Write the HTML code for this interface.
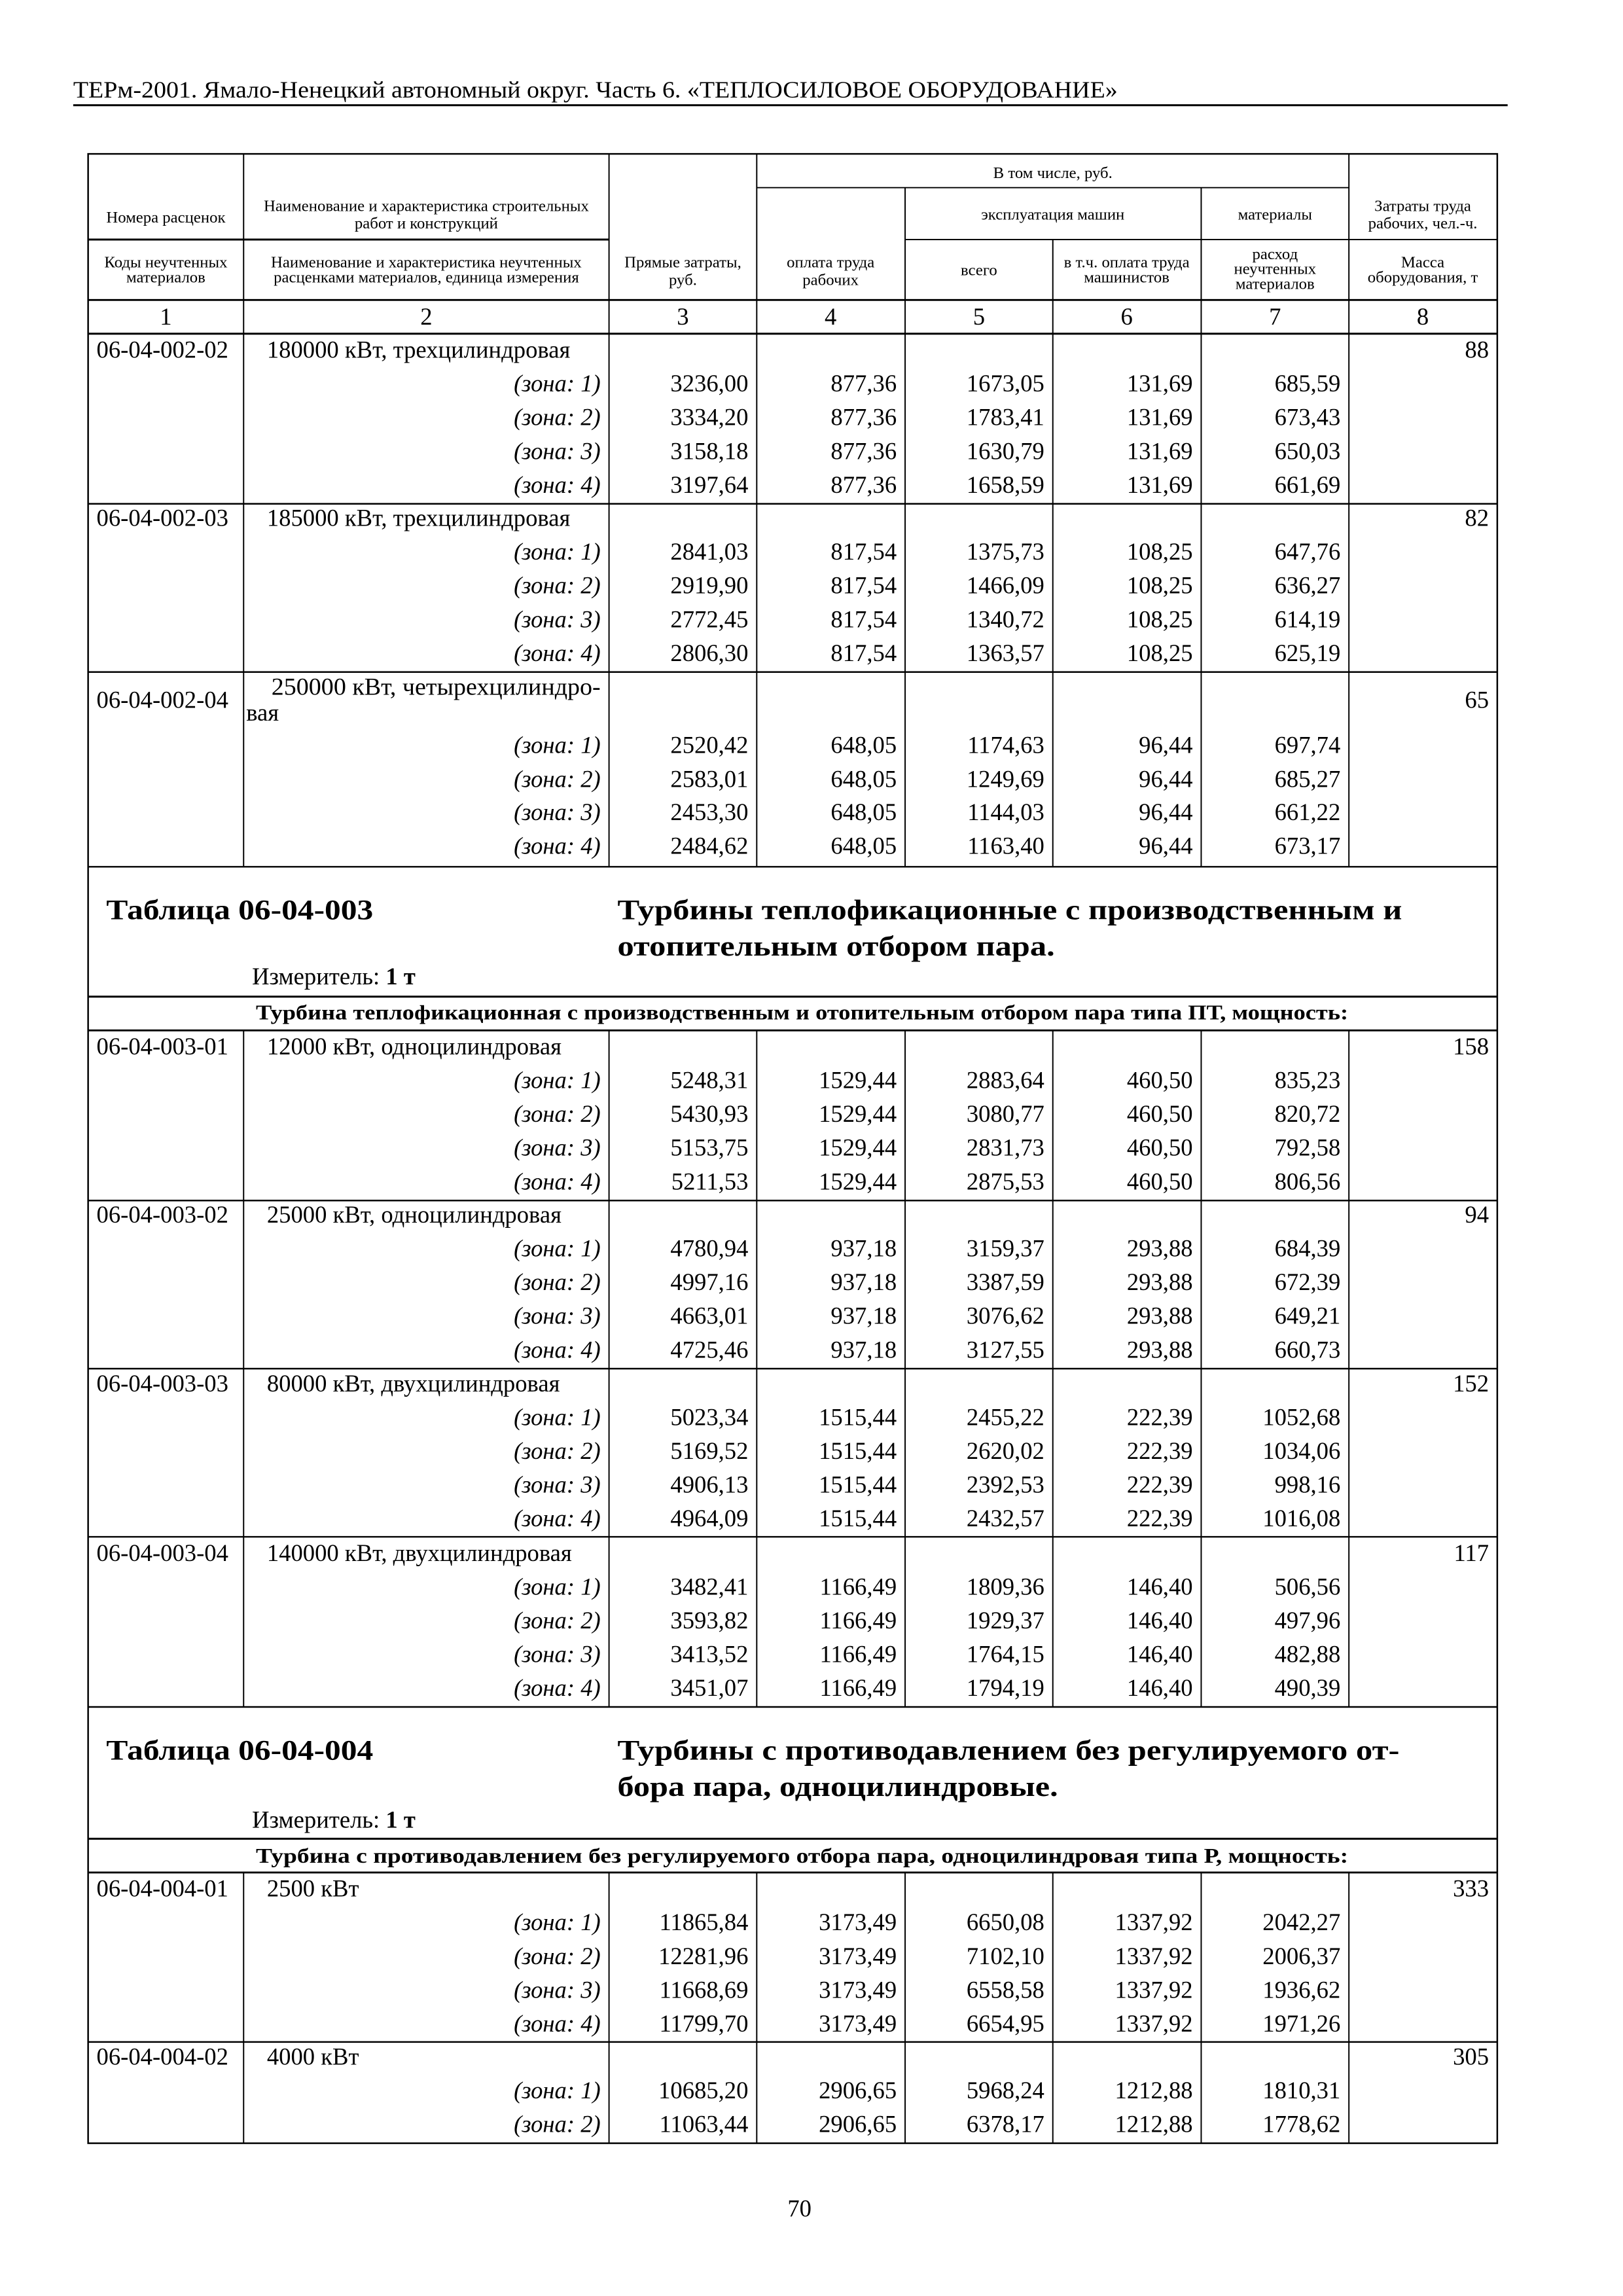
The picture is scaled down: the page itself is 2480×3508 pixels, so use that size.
<!DOCTYPE html>
<html><head><meta charset="utf-8"><style>
html,body{margin:0;padding:0;background:#fff}
svg{display:block}
text{font-family:"Liberation Serif","DejaVu Serif",serif;fill:#000}
.d{font-size:37px}
.r{text-anchor:end}
.z{font-size:37px;font-style:italic;text-anchor:end}
.h{font-size:25px;text-anchor:middle}
.c{text-anchor:middle}
.b{font-weight:bold}
</style></head><body>
<svg width="2480" height="3508" viewBox="0 0 2480 3508" xmlns="http://www.w3.org/2000/svg">
<rect width="2480" height="3508" fill="#fff"/>
<g transform="scale(0.99,0.992)">
<text x="113" y="150" style="font-size:36px" textLength="1612" lengthAdjust="spacingAndGlyphs">ТЕРм-2001. Ямало-Ненецкий автономный округ. Часть 6. «ТЕПЛОСИЛОВОЕ ОБОРУДОВАНИЕ»</text>
<line x1="113" y1="162" x2="2327" y2="162" stroke="#000" stroke-width="3"/>

<g stroke="#000" fill="none">
<rect x="136" y="237" width="2175" height="3064" stroke-width="2.5"/>
<line x1="1168" y1="289" x2="2082" y2="289" stroke-width="2"/>
<line x1="136" y1="369" x2="940" y2="369" stroke-width="3"/>
<line x1="1397" y1="369" x2="2311" y2="369" stroke-width="2"/>
<line x1="136" y1="462" x2="2311" y2="462" stroke-width="3"/>
<line x1="136" y1="514" x2="2311" y2="514" stroke-width="3"/>
<line x1="376" y1="237" x2="376" y2="1335" stroke-width="2"/>
<line x1="940" y1="237" x2="940" y2="1335" stroke-width="2"/>
<line x1="1168" y1="237" x2="1168" y2="1335" stroke-width="2"/>
<line x1="1397" y1="289" x2="1397" y2="1335" stroke-width="2"/>
<line x1="1625" y1="369" x2="1625" y2="1335" stroke-width="2"/>
<line x1="1854" y1="289" x2="1854" y2="1335" stroke-width="2"/>
<line x1="2082" y1="237" x2="2082" y2="1335" stroke-width="2"/>
<line x1="136" y1="776" x2="2311" y2="776" stroke-width="2.5"/>
<line x1="136" y1="1035" x2="2311" y2="1035" stroke-width="2.5"/>
<line x1="136" y1="1335" x2="2311" y2="1335" stroke-width="2.5"/>
<line x1="136" y1="1535" x2="2311" y2="1535" stroke-width="3"/>
<line x1="136" y1="1587" x2="2311" y2="1587" stroke-width="3"/>
<line x1="376" y1="1587" x2="376" y2="2629" stroke-width="2"/>
<line x1="940" y1="1587" x2="940" y2="2629" stroke-width="2"/>
<line x1="1168" y1="1587" x2="1168" y2="2629" stroke-width="2"/>
<line x1="1397" y1="1587" x2="1397" y2="2629" stroke-width="2"/>
<line x1="1625" y1="1587" x2="1625" y2="2629" stroke-width="2"/>
<line x1="1854" y1="1587" x2="1854" y2="2629" stroke-width="2"/>
<line x1="2082" y1="1587" x2="2082" y2="2629" stroke-width="2"/>
<line x1="136" y1="1849" x2="2311" y2="1849" stroke-width="2.5"/>
<line x1="136" y1="2108" x2="2311" y2="2108" stroke-width="2.5"/>
<line x1="136" y1="2367" x2="2311" y2="2367" stroke-width="2.5"/>
<line x1="136" y1="2629" x2="2311" y2="2629" stroke-width="2.5"/>
<line x1="136" y1="2832" x2="2311" y2="2832" stroke-width="3"/>
<line x1="136" y1="2884" x2="2311" y2="2884" stroke-width="3"/>
<line x1="376" y1="2884" x2="376" y2="3301" stroke-width="2"/>
<line x1="940" y1="2884" x2="940" y2="3301" stroke-width="2"/>
<line x1="1168" y1="2884" x2="1168" y2="3301" stroke-width="2"/>
<line x1="1397" y1="2884" x2="1397" y2="3301" stroke-width="2"/>
<line x1="1625" y1="2884" x2="1625" y2="3301" stroke-width="2"/>
<line x1="1854" y1="2884" x2="1854" y2="3301" stroke-width="2"/>
<line x1="2082" y1="2884" x2="2082" y2="3301" stroke-width="2"/>
<line x1="136" y1="3145" x2="2311" y2="3145" stroke-width="2.5"/>
</g>

<text class="h" x="1625" y="274">В том числе, руб.</text>
<text class="h" x="256" y="343">Номера расценок</text>
<text class="h" x="658" y="325">Наименование и характеристика строительных</text>
<text class="h" x="658" y="352">работ и конструкций</text>
<text class="h" x="1625" y="338">эксплуатация машин</text>
<text class="h" x="1968" y="338">материалы</text>
<text class="h" x="2196" y="325">Затраты труда</text>
<text class="h" x="2196" y="352">рабочих, чел.-ч.</text>
<text class="h" x="256" y="412">Коды неучтенных</text>
<text class="h" x="256" y="435">материалов</text>
<text class="h" x="658" y="412">Наименование и характеристика неучтенных</text>
<text class="h" x="658" y="435">расценками материалов, единица измерения</text>
<text class="h" x="1054" y="412">Прямые затраты,</text>
<text class="h" x="1054" y="439">руб.</text>
<text class="h" x="1282" y="412">оплата труда</text>
<text class="h" x="1282" y="439">рабочих</text>
<text class="h" x="1511" y="424">всего</text>
<text class="h" x="1739" y="412">в т.ч. оплата труда</text>
<text class="h" x="1739" y="435">машинистов</text>
<text class="h" x="1968" y="399">расход</text>
<text class="h" x="1968" y="422">неучтенных</text>
<text class="h" x="1968" y="445">материалов</text>
<text class="h" x="2196" y="412">Масса</text>
<text class="h" x="2196" y="435">оборудования, т</text>
<g class="d c">
<text x="256" y="500">1</text><text x="658" y="500">2</text><text x="1054" y="500">3</text><text x="1282" y="500">4</text><text x="1511" y="500">5</text><text x="1739" y="500">6</text><text x="1968" y="500">7</text><text x="2196" y="500">8</text>
</g>

<g class="d">
<text x="149" y="551">06-04-002-02</text><text x="412" y="551">180000 кВт, трехцилиндровая</text><text class="r" x="2298" y="551">88</text>
<text class="z" x="927" y="603">(зона: 1)</text><text class="r" x="1155" y="603">3236,00</text><text class="r" x="1384" y="603">877,36</text><text class="r" x="1612" y="603">1673,05</text><text class="r" x="1841" y="603">131,69</text><text class="r" x="2069" y="603">685,59</text>
<text class="z" x="927" y="655">(зона: 2)</text><text class="r" x="1155" y="655">3334,20</text><text class="r" x="1384" y="655">877,36</text><text class="r" x="1612" y="655">1783,41</text><text class="r" x="1841" y="655">131,69</text><text class="r" x="2069" y="655">673,43</text>
<text class="z" x="927" y="707">(зона: 3)</text><text class="r" x="1155" y="707">3158,18</text><text class="r" x="1384" y="707">877,36</text><text class="r" x="1612" y="707">1630,79</text><text class="r" x="1841" y="707">131,69</text><text class="r" x="2069" y="707">650,03</text>
<text class="z" x="927" y="759">(зона: 4)</text><text class="r" x="1155" y="759">3197,64</text><text class="r" x="1384" y="759">877,36</text><text class="r" x="1612" y="759">1658,59</text><text class="r" x="1841" y="759">131,69</text><text class="r" x="2069" y="759">661,69</text>
<text x="149" y="810">06-04-002-03</text><text x="412" y="810">185000 кВт, трехцилиндровая</text><text class="r" x="2298" y="810">82</text>
<text class="z" x="927" y="862">(зона: 1)</text><text class="r" x="1155" y="862">2841,03</text><text class="r" x="1384" y="862">817,54</text><text class="r" x="1612" y="862">1375,73</text><text class="r" x="1841" y="862">108,25</text><text class="r" x="2069" y="862">647,76</text>
<text class="z" x="927" y="914">(зона: 2)</text><text class="r" x="1155" y="914">2919,90</text><text class="r" x="1384" y="914">817,54</text><text class="r" x="1612" y="914">1466,09</text><text class="r" x="1841" y="914">108,25</text><text class="r" x="2069" y="914">636,27</text>
<text class="z" x="927" y="966">(зона: 3)</text><text class="r" x="1155" y="966">2772,45</text><text class="r" x="1384" y="966">817,54</text><text class="r" x="1612" y="966">1340,72</text><text class="r" x="1841" y="966">108,25</text><text class="r" x="2069" y="966">614,19</text>
<text class="z" x="927" y="1018">(зона: 4)</text><text class="r" x="1155" y="1018">2806,30</text><text class="r" x="1384" y="1018">817,54</text><text class="r" x="1612" y="1018">1363,57</text><text class="r" x="1841" y="1018">108,25</text><text class="r" x="2069" y="1018">625,19</text>
<text x="149" y="1090">06-04-002-04</text><text x="419" y="1070" textLength="508" lengthAdjust="spacingAndGlyphs">250000 кВт, четырехцилиндро-</text><text x="380" y="1110">вая</text><text class="r" x="2298" y="1090">65</text>
<text class="z" x="927" y="1160">(зона: 1)</text><text class="r" x="1155" y="1160">2520,42</text><text class="r" x="1384" y="1160">648,05</text><text class="r" x="1612" y="1160">1174,63</text><text class="r" x="1841" y="1160">96,44</text><text class="r" x="2069" y="1160">697,74</text>
<text class="z" x="927" y="1212">(зона: 2)</text><text class="r" x="1155" y="1212">2583,01</text><text class="r" x="1384" y="1212">648,05</text><text class="r" x="1612" y="1212">1249,69</text><text class="r" x="1841" y="1212">96,44</text><text class="r" x="2069" y="1212">685,27</text>
<text class="z" x="927" y="1263">(зона: 3)</text><text class="r" x="1155" y="1263">2453,30</text><text class="r" x="1384" y="1263">648,05</text><text class="r" x="1612" y="1263">1144,03</text><text class="r" x="1841" y="1263">96,44</text><text class="r" x="2069" y="1263">661,22</text>
<text class="z" x="927" y="1315">(зона: 4)</text><text class="r" x="1155" y="1315">2484,62</text><text class="r" x="1384" y="1315">648,05</text><text class="r" x="1612" y="1315">1163,40</text><text class="r" x="1841" y="1315">96,44</text><text class="r" x="2069" y="1315">673,17</text>
</g>

<text class="b" x="164" y="1416" style="font-size:44px" textLength="412" lengthAdjust="spacingAndGlyphs">Таблица 06-04-003</text>
<text class="b" x="953" y="1416" style="font-size:44px" textLength="1211" lengthAdjust="spacingAndGlyphs">Турбины теплофикационные с производственным и</text>
<text class="b" x="953" y="1472" style="font-size:44px" textLength="675" lengthAdjust="spacingAndGlyphs">отопительным отбором пара.</text>
<text class="d" x="389" y="1516">Измеритель: <tspan class="b">1 т</tspan></text>
<text class="b" x="395" y="1570" style="font-size:32px" textLength="1686" lengthAdjust="spacingAndGlyphs">Турбина теплофикационная с производственным и отопительным отбором пара типа ПТ, мощность:</text>

<g class="d">
<text x="149" y="1624">06-04-003-01</text><text x="412" y="1624">12000 кВт, одноцилиндровая</text><text class="r" x="2298" y="1624">158</text>
<text class="z" x="927" y="1676">(зона: 1)</text><text class="r" x="1155" y="1676">5248,31</text><text class="r" x="1384" y="1676">1529,44</text><text class="r" x="1612" y="1676">2883,64</text><text class="r" x="1841" y="1676">460,50</text><text class="r" x="2069" y="1676">835,23</text>
<text class="z" x="927" y="1728">(зона: 2)</text><text class="r" x="1155" y="1728">5430,93</text><text class="r" x="1384" y="1728">1529,44</text><text class="r" x="1612" y="1728">3080,77</text><text class="r" x="1841" y="1728">460,50</text><text class="r" x="2069" y="1728">820,72</text>
<text class="z" x="927" y="1780">(зона: 3)</text><text class="r" x="1155" y="1780">5153,75</text><text class="r" x="1384" y="1780">1529,44</text><text class="r" x="1612" y="1780">2831,73</text><text class="r" x="1841" y="1780">460,50</text><text class="r" x="2069" y="1780">792,58</text>
<text class="z" x="927" y="1832">(зона: 4)</text><text class="r" x="1155" y="1832">5211,53</text><text class="r" x="1384" y="1832">1529,44</text><text class="r" x="1612" y="1832">2875,53</text><text class="r" x="1841" y="1832">460,50</text><text class="r" x="2069" y="1832">806,56</text>
<text x="149" y="1883">06-04-003-02</text><text x="412" y="1883">25000 кВт, одноцилиндровая</text><text class="r" x="2298" y="1883">94</text>
<text class="z" x="927" y="1935">(зона: 1)</text><text class="r" x="1155" y="1935">4780,94</text><text class="r" x="1384" y="1935">937,18</text><text class="r" x="1612" y="1935">3159,37</text><text class="r" x="1841" y="1935">293,88</text><text class="r" x="2069" y="1935">684,39</text>
<text class="z" x="927" y="1987">(зона: 2)</text><text class="r" x="1155" y="1987">4997,16</text><text class="r" x="1384" y="1987">937,18</text><text class="r" x="1612" y="1987">3387,59</text><text class="r" x="1841" y="1987">293,88</text><text class="r" x="2069" y="1987">672,39</text>
<text class="z" x="927" y="2039">(зона: 3)</text><text class="r" x="1155" y="2039">4663,01</text><text class="r" x="1384" y="2039">937,18</text><text class="r" x="1612" y="2039">3076,62</text><text class="r" x="1841" y="2039">293,88</text><text class="r" x="2069" y="2039">649,21</text>
<text class="z" x="927" y="2091">(зона: 4)</text><text class="r" x="1155" y="2091">4725,46</text><text class="r" x="1384" y="2091">937,18</text><text class="r" x="1612" y="2091">3127,55</text><text class="r" x="1841" y="2091">293,88</text><text class="r" x="2069" y="2091">660,73</text>
<text x="149" y="2143">06-04-003-03</text><text x="412" y="2143">80000 кВт, двухцилиндровая</text><text class="r" x="2298" y="2143">152</text>
<text class="z" x="927" y="2195">(зона: 1)</text><text class="r" x="1155" y="2195">5023,34</text><text class="r" x="1384" y="2195">1515,44</text><text class="r" x="1612" y="2195">2455,22</text><text class="r" x="1841" y="2195">222,39</text><text class="r" x="2069" y="2195">1052,68</text>
<text class="z" x="927" y="2247">(зона: 2)</text><text class="r" x="1155" y="2247">5169,52</text><text class="r" x="1384" y="2247">1515,44</text><text class="r" x="1612" y="2247">2620,02</text><text class="r" x="1841" y="2247">222,39</text><text class="r" x="2069" y="2247">1034,06</text>
<text class="z" x="927" y="2299">(зона: 3)</text><text class="r" x="1155" y="2299">4906,13</text><text class="r" x="1384" y="2299">1515,44</text><text class="r" x="1612" y="2299">2392,53</text><text class="r" x="1841" y="2299">222,39</text><text class="r" x="2069" y="2299">998,16</text>
<text class="z" x="927" y="2351">(зона: 4)</text><text class="r" x="1155" y="2351">4964,09</text><text class="r" x="1384" y="2351">1515,44</text><text class="r" x="1612" y="2351">2432,57</text><text class="r" x="1841" y="2351">222,39</text><text class="r" x="2069" y="2351">1016,08</text>
<text x="149" y="2404">06-04-003-04</text><text x="412" y="2404">140000 кВт, двухцилиндровая</text><text class="r" x="2298" y="2404">117</text>
<text class="z" x="927" y="2456">(зона: 1)</text><text class="r" x="1155" y="2456">3482,41</text><text class="r" x="1384" y="2456">1166,49</text><text class="r" x="1612" y="2456">1809,36</text><text class="r" x="1841" y="2456">146,40</text><text class="r" x="2069" y="2456">506,56</text>
<text class="z" x="927" y="2508">(зона: 2)</text><text class="r" x="1155" y="2508">3593,82</text><text class="r" x="1384" y="2508">1166,49</text><text class="r" x="1612" y="2508">1929,37</text><text class="r" x="1841" y="2508">146,40</text><text class="r" x="2069" y="2508">497,96</text>
<text class="z" x="927" y="2560">(зона: 3)</text><text class="r" x="1155" y="2560">3413,52</text><text class="r" x="1384" y="2560">1166,49</text><text class="r" x="1612" y="2560">1764,15</text><text class="r" x="1841" y="2560">146,40</text><text class="r" x="2069" y="2560">482,88</text>
<text class="z" x="927" y="2612">(зона: 4)</text><text class="r" x="1155" y="2612">3451,07</text><text class="r" x="1384" y="2612">1166,49</text><text class="r" x="1612" y="2612">1794,19</text><text class="r" x="1841" y="2612">146,40</text><text class="r" x="2069" y="2612">490,39</text>
</g>

<text class="b" x="164" y="2710" style="font-size:44px" textLength="412" lengthAdjust="spacingAndGlyphs">Таблица 06-04-004</text>
<text class="b" x="953" y="2710" style="font-size:44px" textLength="1207" lengthAdjust="spacingAndGlyphs">Турбины с противодавлением без регулируемого от-</text>
<text class="b" x="953" y="2766" style="font-size:44px" textLength="680" lengthAdjust="spacingAndGlyphs">бора пара, одноцилиндровые.</text>
<text class="d" x="389" y="2815">Измеритель: <tspan class="b">1 т</tspan></text>
<text class="b" x="395" y="2869" style="font-size:32px" textLength="1686" lengthAdjust="spacingAndGlyphs">Турбина с противодавлением без регулируемого отбора пара, одноцилиндровая типа Р, мощность:</text>

<g class="d">
<text x="149" y="2921">06-04-004-01</text><text x="412" y="2921">2500 кВт</text><text class="r" x="2298" y="2921">333</text>
<text class="z" x="927" y="2973">(зона: 1)</text><text class="r" x="1155" y="2973">11865,84</text><text class="r" x="1384" y="2973">3173,49</text><text class="r" x="1612" y="2973">6650,08</text><text class="r" x="1841" y="2973">1337,92</text><text class="r" x="2069" y="2973">2042,27</text>
<text class="z" x="927" y="3025">(зона: 2)</text><text class="r" x="1155" y="3025">12281,96</text><text class="r" x="1384" y="3025">3173,49</text><text class="r" x="1612" y="3025">7102,10</text><text class="r" x="1841" y="3025">1337,92</text><text class="r" x="2069" y="3025">2006,37</text>
<text class="z" x="927" y="3077">(зона: 3)</text><text class="r" x="1155" y="3077">11668,69</text><text class="r" x="1384" y="3077">3173,49</text><text class="r" x="1612" y="3077">6558,58</text><text class="r" x="1841" y="3077">1337,92</text><text class="r" x="2069" y="3077">1936,62</text>
<text class="z" x="927" y="3129">(зона: 4)</text><text class="r" x="1155" y="3129">11799,70</text><text class="r" x="1384" y="3129">3173,49</text><text class="r" x="1612" y="3129">6654,95</text><text class="r" x="1841" y="3129">1337,92</text><text class="r" x="2069" y="3129">1971,26</text>
<text x="149" y="3180">06-04-004-02</text><text x="412" y="3180">4000 кВт</text><text class="r" x="2298" y="3180">305</text>
<text class="z" x="927" y="3232">(зона: 1)</text><text class="r" x="1155" y="3232">10685,20</text><text class="r" x="1384" y="3232">2906,65</text><text class="r" x="1612" y="3232">5968,24</text><text class="r" x="1841" y="3232">1212,88</text><text class="r" x="2069" y="3232">1810,31</text>
<text class="z" x="927" y="3284">(зона: 2)</text><text class="r" x="1155" y="3284">11063,44</text><text class="r" x="1384" y="3284">2906,65</text><text class="r" x="1612" y="3284">6378,17</text><text class="r" x="1841" y="3284">1212,88</text><text class="r" x="2069" y="3284">1778,62</text>
</g>

<text class="d c" x="1234" y="3414">70</text>
</g>
</svg>
</body></html>
